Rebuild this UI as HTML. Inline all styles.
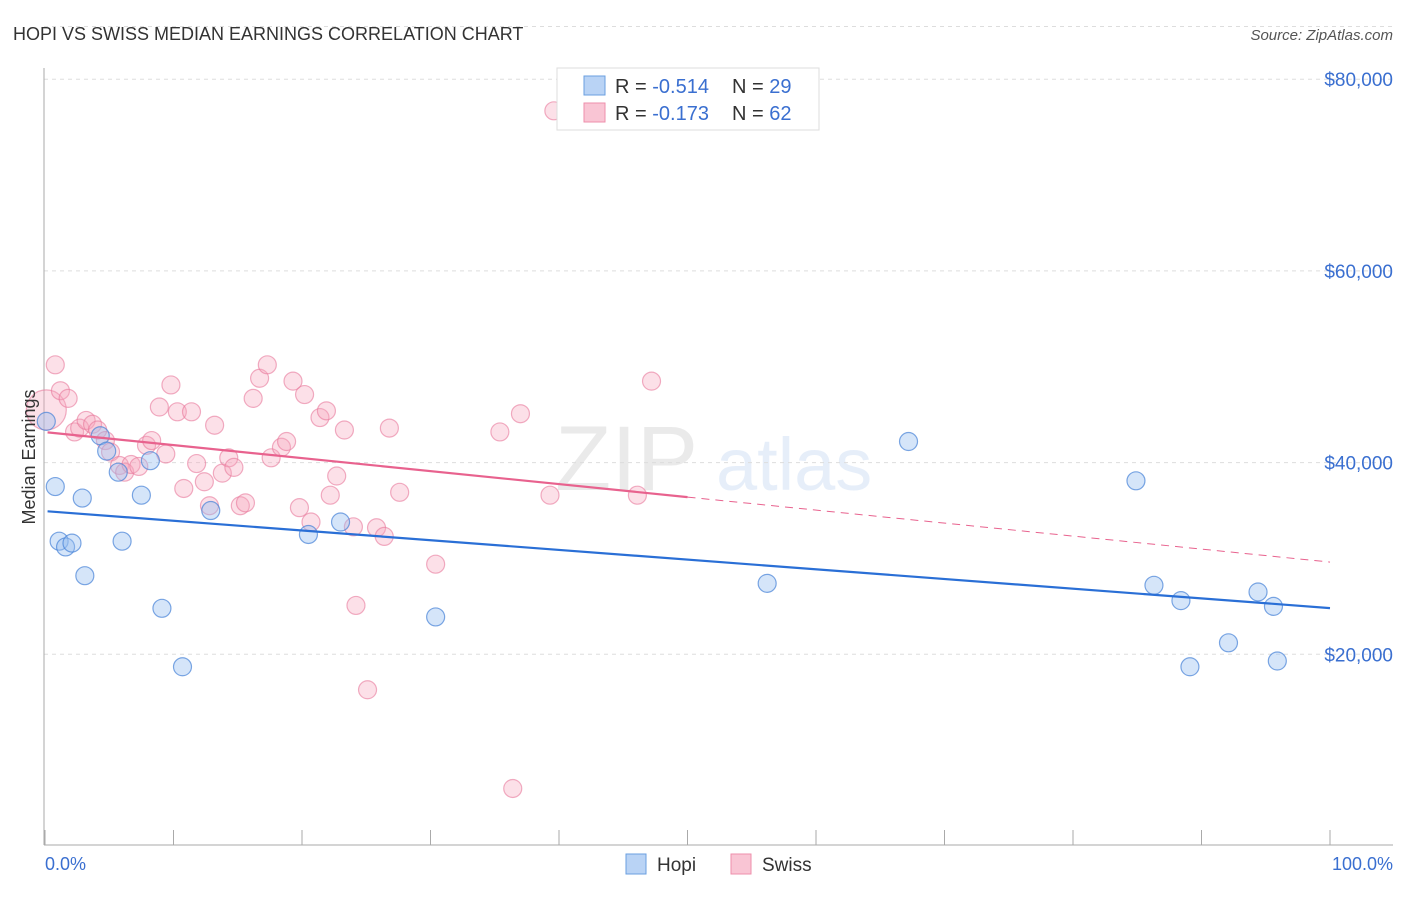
<!DOCTYPE html>
<html><head><meta charset="utf-8"><style>
body{margin:0;background:#fff;font-family:"Liberation Sans",sans-serif;}
svg text{font-family:"Liberation Sans",sans-serif;}
</style></head><body>
<svg width="1406" height="892" viewBox="0 0 1406 892">
<text x="13" y="40" font-size="18" fill="#333">HOPI VS SWISS MEDIAN EARNINGS CORRELATION CHART</text>
<text x="1393" y="40" font-size="15" fill="#555" font-style="italic" text-anchor="end">Source: ZipAtlas.com</text>
<g opacity="0.13">
<text x="555" y="490" font-size="92" font-family="Liberation Serif" fill="#666">ZIP</text>
<text x="716" y="490" font-size="74" fill="#4a86d8">atlas</text>
</g>
<g id="grid"></g>
<g id="axes"></g>
<g id="pts"></g>
<g id="trend"></g>
<text x="35" y="457" font-size="18" fill="#333" text-anchor="middle" transform="rotate(-90 35 457)">Median Earnings</text>
<text x="45" y="870" font-size="18" fill="#3a6fd0">0.0%</text>
<text x="1393" y="870" font-size="18" fill="#3a6fd0" text-anchor="end">100.0%</text>
<g>
<rect x="557" y="68" width="262" height="62" fill="#fff" stroke="#ddd"/>
<rect x="584" y="76" width="21" height="19" fill="#b9d3f5" stroke="#6a9fe0"/>
<text x="615" y="93" font-size="20" fill="#333">R = <tspan fill="#3a6fd0">-0.514</tspan><tspan x="732">N = </tspan><tspan fill="#3a6fd0">29</tspan></text>
<rect x="584" y="103" width="21" height="19" fill="#f9c5d4" stroke="#ee8fab"/>
<text x="615" y="120" font-size="20" fill="#333">R = <tspan fill="#3a6fd0"> -0.173</tspan><tspan x="732">N = </tspan><tspan fill="#3a6fd0">62</tspan></text>
</g>
<g>
<rect x="626" y="854" width="20" height="20" fill="#b9d3f5" stroke="#6a9fe0"/>
<text x="657" y="871" font-size="19" fill="#333">Hopi</text>
<rect x="731" y="854" width="20" height="20" fill="#f9c5d4" stroke="#ee8fab"/>
<text x="762" y="871" font-size="19" fill="#333">Swiss</text>
</g>
</svg>
<script>
const yTicks=[20000,40000,60000,80000];
const yTickLabels=["$20,000","$40,000","$60,000","$80,000"];
const xTicks=[0,10,20,30,40,50,60,70,80,90,100];
const hopiX=[0.1,0.8,2.9,1.1,1.6,2.1,3.1,4.3,4.8,5.7,6.0,7.5,8.2,9.1,10.7,12.9,20.5,23.0,30.4,56.2,67.2,84.9,86.3,88.4,89.1,92.1,94.4,95.6,95.9];
const hopiY=[44300,37500,36300,31800,31200,31600,28200,42800,41200,39000,31800,36600,40200,24800,18700,35000,32500,33800,23900,27400,42200,38100,27200,25600,18700,21200,26500,25000,19300];
const swissX=[0.8,0.1,1.2,1.8,2.3,2.7,3.2,3.7,4.1,4.7,5.1,5.8,6.2,6.7,7.3,7.9,8.3,8.9,9.4,9.8,10.3,10.8,11.4,11.8,12.4,12.8,13.2,13.8,14.3,14.7,15.2,15.6,16.2,16.7,17.3,17.6,18.4,18.8,19.3,19.8,20.2,20.7,21.4,21.9,22.2,22.7,23.3,24.0,24.2,25.1,25.8,26.4,26.8,27.6,30.4,35.4,36.4,37.0,39.3,39.6,46.1,47.2];
const swissY=[50200,45500,47500,46700,43200,43600,44400,44000,43400,42300,41100,39700,39000,39800,39600,41800,42300,45800,40900,48100,45300,37300,45300,39900,38000,35500,43900,38900,40500,39500,35500,35800,46700,48800,50200,40500,41600,42200,48500,35300,47100,33800,44700,45400,36600,38600,43400,33300,25100,16300,33200,32300,43600,36900,29400,43200,6000,45100,36600,76700,36600,48500];
const swissBig=[1];
const hopiTrend=[34940,24820];
const swissTrend=[43180,29620];
const swissSolidEnd=50;
const NS="http://www.w3.org/2000/svg";
const xs=v=>45+v*12.85, ys=v=>846-v*191.7/20000;
function mk(tag,attrs,parent){const e=document.createElementNS(NS,tag);for(const k in attrs)e.setAttribute(k,attrs[k]);parent.appendChild(e);return e;}
const grid=document.getElementById('grid'),axes=document.getElementById('axes'),pts=document.getElementById('pts'),trend=document.getElementById('trend');
yTicks.forEach((t,i)=>{
 const l=mk('line',{x1:44,x2:1393,y1:ys(t),y2:ys(t),stroke:'#ddd','stroke-dasharray':'4,4'},grid);
 
 
 const tx=mk('text',{x:1393,y:ys(t)+7,'font-size':19,fill:'#3a6fd0','text-anchor':'end'},grid);
 tx.textContent=yTickLabels[i];
 
 
});
mk('line',{x1:44,x2:1393,y1:ys(85500),y2:ys(85500),stroke:'#ddd','stroke-dasharray':'4,4'},grid);
const la=mk('line',{x1:44,x2:44,y1:68,y2:845,stroke:'#aaa'},axes);


const ba=mk('line',{x1:44,x2:1393,y1:845,y2:845,stroke:'#aaa'},axes);


xTicks.forEach(t=>{
 const l=mk('line',{x1:xs(t),x2:xs(t),y1:830,y2:845,stroke:'#aaa'},axes);
 
 
});
swissX.forEach((x,i)=>{
 const c=mk('circle',{cx:xs(x),cy:ys(swissY[i]),r:swissBig.includes(i)?20:9,fill:'rgba(245,165,190,0.35)',stroke:'rgba(232,120,155,0.6)','stroke-width':1.2},pts);
 
 
});
hopiX.forEach((x,i)=>{
 const c=mk('circle',{cx:xs(x),cy:ys(hopiY[i]),r:9,fill:'rgba(150,190,240,0.4)',stroke:'rgba(70,130,215,0.7)','stroke-width':1.2},pts);
 
 
});
const tAt=(tr,x)=>tr[0]+(tr[1]-tr[0])*x/100;
const hl=mk('line',{x1:xs(0.2),y1:ys(tAt(hopiTrend,0.2)),x2:xs(100),y2:ys(hopiTrend[1]),stroke:'#2a6fd6','stroke-width':2.2},trend);


const sl=mk('line',{x1:xs(0.2),y1:ys(tAt(swissTrend,0.2)),x2:xs(swissSolidEnd),y2:ys(tAt(swissTrend,swissSolidEnd)),stroke:'#e8628e','stroke-width':2.2},trend);


const sd=mk('line',{x1:xs(swissSolidEnd),y1:ys(tAt(swissTrend,swissSolidEnd)),x2:xs(100),y2:ys(swissTrend[1]),stroke:'#e8628e','stroke-width':1,'stroke-dasharray':'8,6'},trend);


</script>
</body></html>
